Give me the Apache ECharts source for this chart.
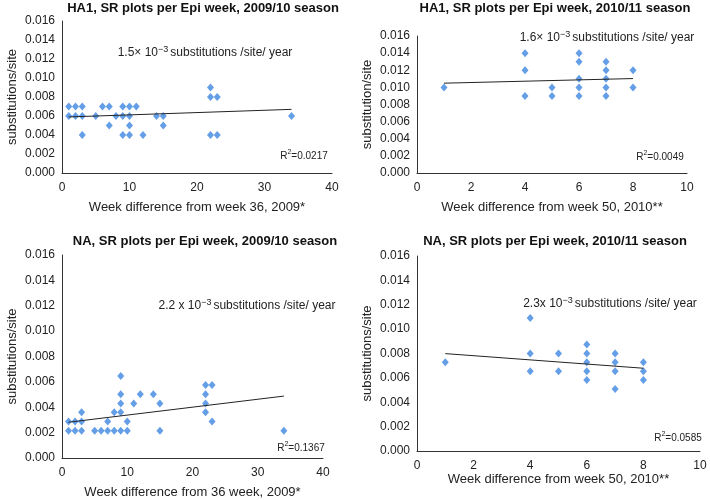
<!DOCTYPE html>
<html>
<head>
<meta charset="utf-8">
<script src="https://cdn.jsdelivr.net/npm/echarts@6/dist/echarts.min.js"></script>
<style>
  html, body { margin: 0; padding: 0; background: #fff; }
  #chart { width: 710px; height: 500px; }
</style>
</head>
<body>
<div id="chart"></div>
<script>
// HA1 2009/10: [week, substitutions/site]
var ha1Season0910 = [
  [1, 0.007], [1, 0.006], [2, 0.007], [2, 0.006], [3, 0.007], [3, 0.006], [3, 0.004],
  [5, 0.006], [6, 0.007], [7, 0.007], [7, 0.005], [8, 0.006],
  [9, 0.007], [9, 0.006], [9, 0.004], [10, 0.007], [10, 0.006], [10, 0.005], [10, 0.004],
  [11, 0.007], [12, 0.004], [14, 0.006], [15, 0.006], [15, 0.005],
  [22, 0.009], [22, 0.008], [22, 0.004], [23, 0.008], [23, 0.004], [34, 0.006]
];
var ha1Trend0910 = [[1, 0.0059], [34, 0.0067]];

// HA1 2010/11
var ha1Season1011 = [
  [1, 0.010], [4, 0.014], [4, 0.012], [4, 0.009], [5, 0.010], [5, 0.009],
  [6, 0.014], [6, 0.013], [6, 0.011], [6, 0.010], [6, 0.009],
  [7, 0.013], [7, 0.012], [7, 0.011], [7, 0.010], [7, 0.009],
  [8, 0.012], [8, 0.010]
];
var ha1Trend1011 = [[1, 0.01049], [8, 0.01103]];

// NA 2009/10
var naSeason0910 = [
  [1, 0.00287], [1, 0.00215], [2, 0.00287], [2, 0.00215],
  [3, 0.0036], [3, 0.00287], [3, 0.00215], [5, 0.00215], [6, 0.00215],
  [7, 0.00287], [7, 0.00215], [8, 0.0036], [8, 0.00215],
  [9, 0.00647], [9, 0.00503], [9, 0.0043], [9, 0.0036], [9, 0.00215],
  [10, 0.00287], [10, 0.00215], [11, 0.0043], [12, 0.00503], [14, 0.00503],
  [15, 0.0043], [15, 0.00215],
  [22, 0.00575], [22, 0.00503], [22, 0.0043], [22, 0.0036],
  [23, 0.00575], [23, 0.00287], [34, 0.00215]
];
var naTrend0910 = [[1, 0.00282], [34, 0.00488]];

// NA 2010/11
var naSeason1011 = [
  [1, 0.00728], [4, 0.01091], [4, 0.008], [4, 0.00655], [5, 0.008], [5, 0.00655],
  [6, 0.00873], [6, 0.008], [6, 0.00728], [6, 0.00655], [6, 0.00582],
  [7, 0.008], [7, 0.00728], [7, 0.00655], [7, 0.00509],
  [8, 0.00728], [8, 0.00655], [8, 0.00582]
];
var naTrend1011 = [[1, 0.00799], [8, 0.00679]];

var panelTitles = [
  "HA1, SR plots per Epi week, 2009/10 season",
  "HA1, SR plots per Epi week, 2010/11 season",
  "NA, SR plots per Epi week, 2009/10 season",
  "NA, SR plots per Epi week, 2010/11 season"
];
var xNames = [
  "Week difference from week 36, 2009*",
  "Week difference from week 50, 2010**",
  "Week difference from 36 week, 2009*",
  "Week difference from week 50, 2010**"
];
var yNames = ["substitutions/site", "substitution/site", "substitutions/site", "substitutions/site"];
var rates = ["1.5×", "1.6×", "2.2 x", "2.3x"];
var rSquared = ["0.0217", "0.0049", "0.1367", "0.0585"];
var xMax = [40, 10, 40, 10];
var xInterval = [10, 2, 10, 2];

var chart = echarts.init(document.getElementById("chart"));
var font = "'Liberation Sans', Arial, sans-serif";
var axisColor = "#333";
var dotColor = "#3d86e0";

var grids = [
  { left: 62, top: 21, width: 270, height: 152 },
  { left: 417, top: 36, width: 270, height: 137 },
  { left: 62, top: 255, width: 261, height: 204 },
  { left: 417, top: 256, width: 283, height: 195 }
];
var xGaps = [28, 28, 28, 19];
var titlePos = [[203, 8], [555, 8], [205, 241], [555, 241]];
var ratePos = [[205, 52], [607, 37], [247, 305], [610, 303]];
var r2Pos = [[304, 155], [660, 156], [301, 447], [678, 437]];

var xAxes = [], yAxes = [], series = [], graphics = [];
var scatterData = [ha1Season0910, ha1Season1011, naSeason0910, naSeason1011];
var trendData = [ha1Trend0910, ha1Trend1011, naTrend0910, naTrend1011];

for (var i = 0; i < 4; i++) {
  xAxes.push({
    gridIndex: i, type: "value", min: 0, max: xMax[i], interval: xInterval[i],
    name: xNames[i], nameLocation: "middle", nameGap: xGaps[i],
    nameTextStyle: { fontFamily: font, fontSize: 13, color: "#222" },
    axisLine: { lineStyle: { color: axisColor, width: 1 } },
    axisTick: { show: false }, splitLine: { show: false },
    axisLabel: { fontFamily: font, fontSize: 12, color: "#222", margin: 9 }
  });
  yAxes.push({
    gridIndex: i, type: "value", min: 0, max: 0.016, interval: 0.002,
    name: yNames[i], nameLocation: "middle", nameGap: 43,
    nameTextStyle: { fontFamily: font, fontSize: 13, color: "#222" },
    axisLine: { show: true, lineStyle: { color: axisColor, width: 1 } },
    axisTick: { show: false }, splitLine: { show: false },
    axisLabel: {
      fontFamily: font, fontSize: 12, color: "#222", margin: 7,
      formatter: function (v) { return v.toFixed(3); }
    }
  });
  series.push({
    type: "scatter", xAxisIndex: i, yAxisIndex: i, data: scatterData[i],
    symbol: "diamond", symbolSize: [7, 8],
    itemStyle: { color: dotColor }, silent: true
  });
  series.push({
    type: "line", xAxisIndex: i, yAxisIndex: i, data: trendData[i],
    showSymbol: false, lineStyle: { color: "#222", width: 1 }, silent: true
  });
  graphics.push({
    type: "text", x: titlePos[i][0], y: titlePos[i][1],
    style: {
      text: panelTitles[i], font: "bold 13px " + font, fill: "#111",
      textAlign: "center", textVerticalAlign: "middle"
    }
  });
  graphics.push({
    type: "text", x: ratePos[i][0], y: ratePos[i][1],
    style: {
      text: "{n|" + rates[i] + " 10}{s|−3}{n|substitutions /site/ year}",
      textAlign: "center", textVerticalAlign: "middle",
      rich: {
        n: { fontFamily: font, fontSize: 12, fill: "#222", lineHeight: 14, verticalAlign: "bottom" },
        s: { fontFamily: font, fontSize: 9, fill: "#222", lineHeight: 14, verticalAlign: "top", padding: [0, 2, 0, 0] }
      }
    }
  });
  graphics.push({
    type: "text", x: r2Pos[i][0], y: r2Pos[i][1],
    style: {
      text: "{n|R}{s|2}{n|=" + rSquared[i] + "}",
      textAlign: "center", textVerticalAlign: "middle",
      rich: {
        n: { fontFamily: font, fontSize: 10, fill: "#222", lineHeight: 12, verticalAlign: "bottom" },
        s: { fontFamily: font, fontSize: 7, fill: "#222", lineHeight: 12, verticalAlign: "top" }
      }
    }
  });
}

chart.setOption({
  animation: false,
  grid: grids,
  xAxis: xAxes,
  yAxis: yAxes,
  series: series,
  graphic: graphics
});
</script>
</body>
</html>
